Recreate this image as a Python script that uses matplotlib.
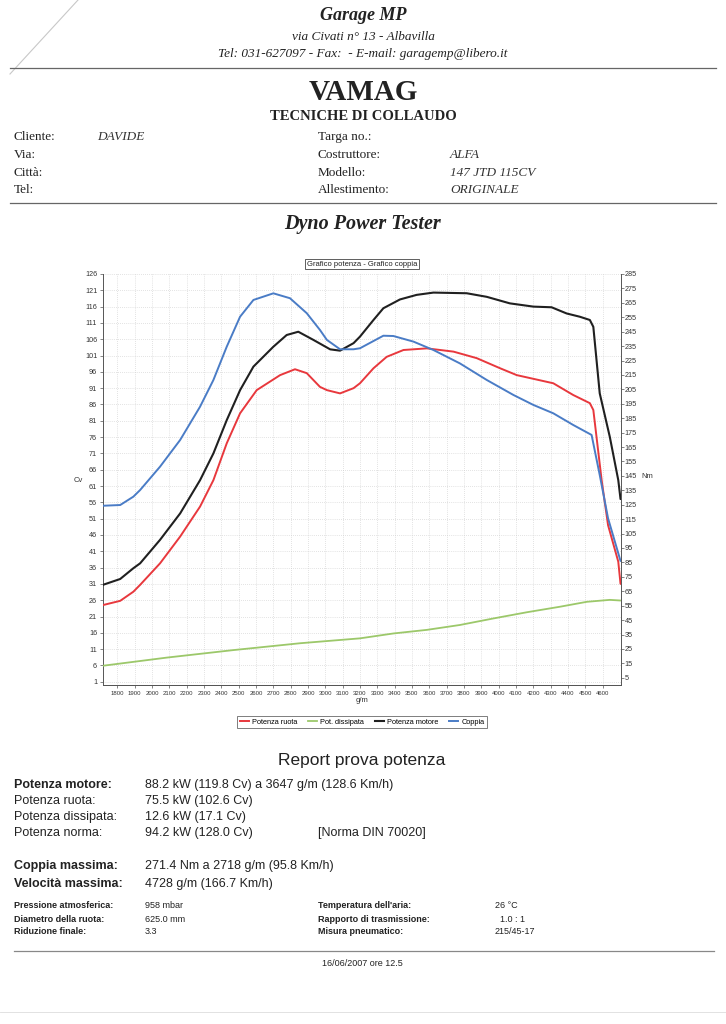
import matplotlib.pyplot as plt
import numpy as np

# curve readings (rpm, value)
RUOTA_RPM = [1716, 1816, 1892, 1931, 2046, 2162, 2277, 2354, 2431, 2508, 2604, 2739, 2825,
             2893, 2969, 3009, 3085, 3163, 3200, 3278, 3354, 3451, 3586, 3740, 3874,
             4009, 4105, 4316, 4431, 4527, 4547, 4595, 4632, 4691, 4704]
RUOTA_CV = [24.5, 25.8, 28.6, 30.7, 37.3, 45.5, 54.7, 62.8, 74.1, 83.3, 90.4, 95.0, 96.8,
            95.6, 91.4, 90.4, 89.4, 91.0, 92.5, 97.1, 100.6, 102.7, 103.2, 102.2, 100.2,
            97.1, 95.0, 92.5, 88.9, 86.4, 84.3, 62.8, 49.0, 37.8, 31.0]

DISSIP_RPM = [1716, 2085, 2469, 2854, 3200, 3393, 3586, 3777, 3970, 4163, 4355, 4509, 4642, 4704]
DISSIP_CV = [5.9, 8.4, 10.7, 12.8, 14.3, 15.8, 16.9, 18.4, 20.4, 22.3, 24.0, 25.5, 26.1, 25.9]

MOTORE_RPM = [1716, 1816, 1892, 1931, 2046, 2162, 2277, 2354, 2431, 2508, 2585, 2700, 2777,
              2844, 2931, 3028, 3085, 3163, 3200, 3278, 3335, 3431, 3527, 3624, 3816,
              3932, 4065, 4201, 4306, 4393, 4469, 4527, 4547, 4584, 4642, 4691, 4704]
MOTORE_CV = [30.7, 32.5, 35.8, 37.3, 44.5, 52.6, 62.8, 71.0, 81.2, 90.4, 97.6, 103.7, 107.3,
             108.3, 105.8, 102.9, 102.5, 104.8, 106.8, 111.9, 115.5, 118.2, 119.6, 120.3, 120.1,
             119.0, 117.0, 116.0, 115.8, 113.9, 112.9, 111.9, 109.8, 89.4, 76.1, 62.8, 57.0]

COPPIA_RPM = [1716, 1816, 1892, 1931, 2046, 2162, 2277, 2354, 2431, 2508, 2585, 2700, 2796,
              2893, 2969, 3009, 3085, 3163, 3200, 3335, 3393, 3509, 3624, 3777, 3932, 4086,
              4201, 4316, 4431, 4537, 4584, 4632, 4704]
COPPIA_NM = [124.3, 124.8, 130.6, 135.2, 151.4, 169.9, 193.0, 211.5, 234.6, 255.4, 267.0, 271.6, 268.2,
             257.8, 246.2, 239.3, 232.8, 232.8, 233.5, 242.2, 242.0, 238.1, 232.3, 223.0, 211.5, 201.1,
             194.2, 188.4, 180.3, 173.4, 145.6, 115.6, 86.0]

X_TICKS = list(range(1800, 4700, 100))
CV_TICKS = list(range(1, 127, 5))
NM_TICKS = list(range(5, 286, 10))

SERIF = "Liberation Serif"
SANS = "Liberation Sans"

W, H = 726, 1024


def fx(px):
    return px / W


def fy(py):
    return 1 - py / H


def txt(fig, x, y, s, **kw):
    kw.setdefault("va", "center")
    fig.text(fx(x), fy(y), s, **kw)


def hline(fig, y, x0=10, x1=716, color="#666666", lw=0.9):
    fig.add_artist(plt.Line2D([fx(x0), fx(x1)], [fy(y), fy(y)], color=color, lw=lw))


def plot():
    fig = plt.figure(figsize=(W / 100, H / 100), dpi=100)
    fig.patch.set_facecolor("white")

    # scan artefact at top left
    fig.add_artist(plt.Line2D([fx(10), fx(78)], [fy(74), fy(0)], color="#c8c8c8", lw=0.8))

    # header
    txt(fig, 363, 15, "Garage MP", ha="center", family=SERIF, fontsize=13,
        fontweight="bold", style="italic", color="#222222")
    txt(fig, 363, 37, "via Civati n° 13 - Albavilla", ha="center", family=SERIF,
        fontsize=9.5, style="italic", color="#222222")
    txt(fig, 363, 54, "Tel: 031-627097 - Fax:  - E-mail: garagemp@libero.it", ha="center",
        family=SERIF, fontsize=9.5, style="italic", color="#222222")
    hline(fig, 68)

    txt(fig, 363, 93, "VAMAG", ha="center", family=SERIF, fontsize=21, fontweight="bold",
        color="#222222")
    txt(fig, 363, 117, "TECNICHE DI COLLAUDO", ha="center", family=SERIF, fontsize=10.5,
        fontweight="bold", color="#222222")

    left_rows = [("Cliente:", "DAVIDE"), ("Via:", ""), ("Città:", ""), ("Tel:", "")]
    right_rows = [("Targa no.:", ""), ("Costruttore:", "ALFA"), ("Modello:", "147 JTD 115CV"),
                  ("Allestimento:", "ORIGINALE")]
    for i, y in enumerate([137, 155, 173, 190]):
        txt(fig, 14, y, left_rows[i][0], family=SERIF, fontsize=9.5, color="#222222")
        txt(fig, 97, y, left_rows[i][1], family=SERIF, fontsize=9.5, style="italic", color="#333333")
        txt(fig, 318, y, right_rows[i][0], family=SERIF, fontsize=9.5, color="#222222")
        txt(fig, 450, y, right_rows[i][1], family=SERIF, fontsize=9.5, style="italic", color="#333333")
    hline(fig, 203)

    txt(fig, 363, 224, "Dyno Power Tester", ha="center", family=SERIF, fontsize=14.5,
        fontweight="bold", style="italic", color="#222222")

    # chart
    ax = fig.add_axes([fx(102.7), fy(685), fx(518), 411 / H])
    ax2 = ax.twinx()

    line_kw = dict(solid_joinstyle="round", solid_capstyle="round")
    ax.plot(DISSIP_RPM, DISSIP_CV, color="#9cc86a", lw=1.3, zorder=3, **line_kw)
    ax.plot(RUOTA_RPM, RUOTA_CV, color="#e8383d", lw=1.4, zorder=4, **line_kw)
    ax.plot(MOTORE_RPM, MOTORE_CV, color="#202020", lw=1.5, zorder=5, **line_kw)
    ax2.plot(COPPIA_RPM, COPPIA_NM, color="#4a7cc6", lw=1.4, **line_kw)

    ax.set_xlim(1715, 4705)
    ax.set_ylim(0, 126)
    ax2.set_ylim(0, 285)
    ax.set_xticks(X_TICKS)
    ax.set_xticklabels([str(v) for v in X_TICKS], fontsize=4.3, family=SANS, color="#333333")
    ax.set_yticks(CV_TICKS)
    ax.set_yticklabels([str(v) for v in CV_TICKS], fontsize=5.2, family=SANS, color="#333333")
    ax2.set_yticks(NM_TICKS)
    ax2.set_yticklabels([str(v) for v in NM_TICKS], fontsize=5.2, family=SANS, color="#333333")
    ax.tick_params(length=2.5, width=0.5, pad=1.5, color="#555555")
    ax2.tick_params(length=2.5, width=0.5, pad=0.5, color="#555555")
    ax.grid(True, color="#c8c8c8", lw=0.5, ls=(0, (1, 2)))
    for a in (ax, ax2):
        for side in ("top", "right"):
            a.spines[side].set_visible(False)
        a.spines["left"].set_color("#555555")
        a.spines["bottom"].set_color("#555555")
        a.spines["left"].set_linewidth(0.7)
        a.spines["bottom"].set_linewidth(0.7)
    ax2.spines["right"].set_visible(True)
    ax2.spines["right"].set_color("#555555")
    ax2.spines["right"].set_linewidth(0.7)
    ax2.spines["left"].set_visible(False)

    txt(fig, 78, 480, "Cv", ha="center", family=SANS, fontsize=5.5, color="#333333")
    txt(fig, 647, 477, "Nm", ha="center", family=SANS, fontsize=5.5, color="#333333")
    txt(fig, 362, 700, "g/m", ha="center", family=SANS, fontsize=5.5, color="#333333")
    txt(fig, 362, 264, "Grafico potenza - Grafico coppia", ha="center", family=SANS, fontsize=5.5,
        color="#222222", bbox=dict(boxstyle="square,pad=0.25", facecolor="white",
                                   edgecolor="#444444", lw=0.6))

    handles = [
        plt.Line2D([], [], color="#e8383d", lw=1.4, label="Potenza ruota"),
        plt.Line2D([], [], color="#9cc86a", lw=1.3, label="Pot. dissipata"),
        plt.Line2D([], [], color="#202020", lw=1.5, label="Potenza motore"),
        plt.Line2D([], [], color="#4a7cc6", lw=1.4, label="Coppia"),
    ]
    leg = fig.legend(handles=handles, loc="center", bbox_to_anchor=(fx(362), fy(722)), ncol=4,
                     frameon=True, fancybox=False, handlelength=1.3,
                     handletextpad=0.4, columnspacing=1.4, borderpad=0.3,
                     prop={"family": SANS, "size": 5.3})
    leg.get_frame().set_edgecolor("#444444")
    leg.get_frame().set_linewidth(0.6)

    # report
    txt(fig, 362, 760, "Report prova potenza", ha="center", family=SANS, fontsize=12.5,
        color="#222222")
    rows = [
        (785, "Potenza motore:", "88.2 kW (119.8 Cv) a 3647 g/m (128.6 Km/h)", True),
        (801, "Potenza ruota:", "75.5 kW (102.6 Cv)", False),
        (817, "Potenza dissipata:", "12.6 kW (17.1 Cv)", False),
        (833, "Potenza norma:", "94.2 kW (128.0 Cv)", False),
        (866, "Coppia massima:", "271.4 Nm a 2718 g/m (95.8 Km/h)", True),
        (884, "Velocità massima:", "4728 g/m (166.7 Km/h)", True),
    ]
    for y, label, value, bold in rows:
        txt(fig, 14, y, label, family=SANS, fontsize=9, color="#222222",
            fontweight="bold" if bold else "normal")
        txt(fig, 145, y, value, family=SANS, fontsize=9, color="#222222")
    txt(fig, 318, 833, "[Norma DIN 70020]", family=SANS, fontsize=9, color="#222222")

    small_left = [("Pressione atmosferica:", "958 mbar"), ("Diametro della ruota:", "625.0 mm"),
                  ("Riduzione finale:", "3.3")]
    small_right = [("Temperatura dell'aria:", "26 °C"), ("Rapporto di trasmissione:", "  1.0 : 1"),
                   ("Misura pneumatico:", "215/45-17")]
    for i, y in enumerate([906, 919, 932]):
        txt(fig, 14, y, small_left[i][0], family=SANS, fontsize=6.5, fontweight="bold", color="#222222")
        txt(fig, 145, y, small_left[i][1], family=SANS, fontsize=6.5, color="#222222")
        txt(fig, 318, y, small_right[i][0], family=SANS, fontsize=6.5, fontweight="bold", color="#222222")
        txt(fig, 495, y, small_right[i][1], family=SANS, fontsize=6.5, color="#222222")
    hline(fig, 951, x0=14, x1=714, color="#888888")
    txt(fig, 362, 964, "16/06/2007 ore 12.5", ha="center", family=SANS, fontsize=6.5,
        color="#222222")
    hline(fig, 1012, x0=0, x1=726, color="#dddddd", lw=0.6)

    fig.savefig("out.png", dpi=100)
    plt.close(fig)


if __name__ == "__main__":
    plot()
